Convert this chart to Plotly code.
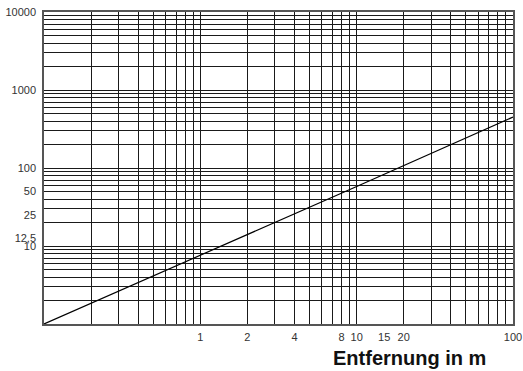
import plotly.graph_objects as go

# Data
line_x = [0.1, 1, 10, 100]
line_y = [1, 7.6, 58, 450]

x_tick_vals = [1, 2, 4, 8, 10, 15, 20, 100]
x_tick_text = ["1", "2", "4", "8", "10", "15", "20", "100"]
y_tick_vals = [10, 12.5, 25, 50, 100, 1000, 10000]
y_tick_text = ["10", "12,5", "25", "50", "100", "1000", "10000"]

x_grid = [m * 10 ** e for e in (-1, 0, 1) for m in range(1, 10)] + [100]
y_grid = [m * 10 ** e for e in (0, 1, 2, 3) for m in range(1, 10)] + [10000]

x_title = "Entfernung in m"

font_family = "Liberation Sans, Arial, Helvetica, sans-serif"

fig = go.Figure()
fig.add_trace(go.Scatter(x=line_x, y=line_y, mode="lines",
                         line=dict(color="black", width=1.2),
                         showlegend=False, hoverinfo="skip"))
# invisible trace on grid axes
fig.add_trace(go.Scatter(x=[0.1, 100], y=[1, 10000], xaxis="x2", yaxis="y2",
                         mode="markers", marker=dict(opacity=0),
                         showlegend=False, hoverinfo="skip"))

grid_color = "#1a1a1a"
fig.update_layout(
    width=523, height=371,
    margin=dict(l=44, r=10, t=12, b=47),
    paper_bgcolor="white", plot_bgcolor="white",
    font=dict(family=font_family, size=11, color="#333"),
    xaxis=dict(type="log", range=[-1, 2], tickmode="array",
               tickvals=x_tick_vals, ticktext=x_tick_text,
               showgrid=False, zeroline=False, automargin=False,
               ticks="outside", ticklen=2, tickcolor="rgba(0,0,0,0)",
               showline=True, linecolor="#555", linewidth=2, mirror=True),
    yaxis=dict(type="log", range=[0, 4], tickmode="array",
               tickvals=y_tick_vals, ticktext=y_tick_text,
               showgrid=False, zeroline=False, automargin=False,
               ticks="outside", ticklen=4, tickcolor="rgba(0,0,0,0)",
               showline=True, linecolor="#555", linewidth=1.5, mirror=True),
    xaxis2=dict(type="log", range=[-1, 2], overlaying="x", tickmode="array",
                tickvals=x_grid, showticklabels=False, showgrid=True,
                automargin=False,
                gridcolor=grid_color, gridwidth=1, zeroline=False, side="bottom"),
    yaxis2=dict(type="log", range=[0, 4], overlaying="y", tickmode="array",
                tickvals=y_grid, showticklabels=False, showgrid=True,
                automargin=False,
                gridcolor=grid_color, gridwidth=1, zeroline=False, side="left"),
    annotations=[dict(text="<b>" + x_title + "</b>", xref="paper", yref="paper",
                      x=0.78, y=-0.109, xanchor="center", yanchor="middle",
                      showarrow=False,
                      font=dict(family=font_family, size=20, color="#111"))],
)

fig.write_html("out.html", config={"displayModeBar": False},
               post_script="document.body.style.margin='0';")
